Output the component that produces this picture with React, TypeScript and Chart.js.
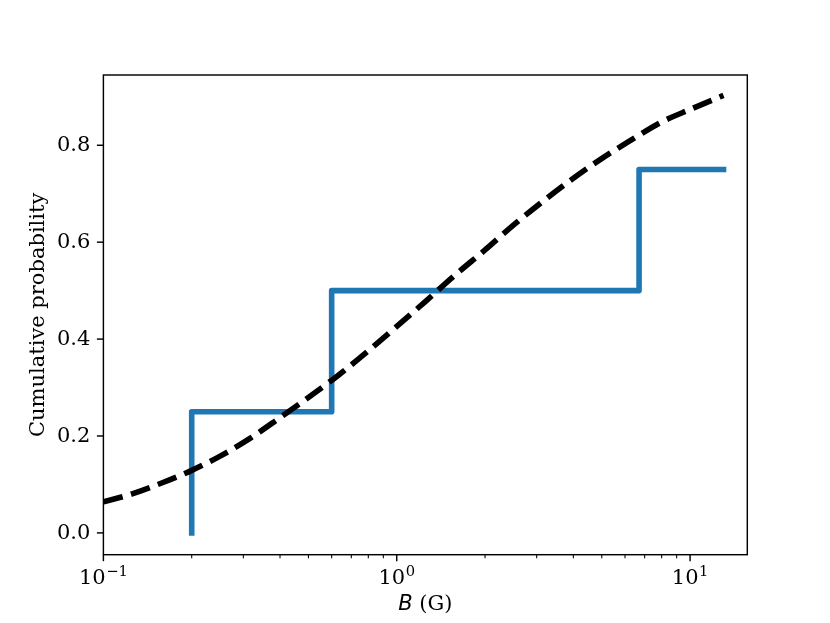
import React, { useEffect, useRef } from "react";
import { Chart, registerables } from "chart.js";

Chart.register(...registerables);

// Dashed model curve (~0.1-decade spacing)
const CURVE_B = [0.1, 0.126, 0.158, 0.2, 0.251, 0.316, 0.398, 0.501, 0.631, 0.794, 1, 1.26, 1.58, 2.0, 2.51, 3.16, 3.98, 5.01, 6.31, 7.94, 10, 13.0];
const CURVE_P = [0.064, 0.081, 0.103, 0.129, 0.159, 0.195, 0.237, 0.28, 0.325, 0.374, 0.426, 0.479, 0.532, 0.584, 0.636, 0.685, 0.731, 0.773, 0.811, 0.847, 0.874, 0.903];

// Empirical step CDF
const STEP_B = [0.2, 0.2, 0.6, 0.6, 6.7, 6.7, 13.0];
const STEP_P = [0, 0.25, 0.25, 0.5, 0.5, 0.75, 0.75];

// Axes
const X_MIN = 0.1;
const X_MAX = 15.67;
const Y_MIN = -0.045;
const Y_MAX = 0.945;
const Y_TICKS = [0.0, 0.2, 0.4, 0.6, 0.8];
const X_MAJOR = [0.1, 1, 10];
const X_MAJOR_EXP = ["\u22121", "0", "1"];
const X_MINOR = [0.2, 0.3, 0.4, 0.5, 0.6, 0.7, 0.8, 0.9, 2, 3, 4, 5, 6, 7, 8, 9];

const Y_LABEL = "Cumulative probability";
const X_LABEL_VAR = "B";
const X_LABEL_UNIT = " (G)";

const SERIF = '"DejaVu Serif", serif';
const SANS = '"DejaVu Sans", sans-serif';
const FS = 21;
const FS_SUP = 14.7;

const axesPlugin = {
  id: "mplAxes",
  afterDraw(chart: any) {
    const ctx = chart.ctx as CanvasRenderingContext2D;
    const { left, right, top, bottom } = chart.chartArea;
    const xs = chart.scales.x;
    const ys = chart.scales.y;
    ctx.save();
    ctx.strokeStyle = "#000";
    ctx.fillStyle = "#000";
    // frame
    ctx.lineWidth = 1.44;
    ctx.strokeRect(left, top, right - left, bottom - top);

    // y ticks
    ctx.font = `${FS}px ${SERIF}`;
    ctx.textAlign = "right";
    ctx.textBaseline = "middle";
    for (const v of Y_TICKS) {
      const py = ys.getPixelForValue(v);
      ctx.lineWidth = 1.44;
      ctx.beginPath();
      ctx.moveTo(left, py);
      ctx.lineTo(left - 6.5, py);
      ctx.stroke();
      ctx.fillText(v.toFixed(1), left - 13, py + 0.5);
    }

    // x minor ticks
    ctx.lineWidth = 1.08;
    for (const v of X_MINOR) {
      const px = xs.getPixelForValue(v);
      if (px < left || px > right) continue;
      ctx.beginPath();
      ctx.moveTo(px, bottom);
      ctx.lineTo(px, bottom + 3.6);
      ctx.stroke();
    }
    // x major ticks and labels
    ctx.lineWidth = 1.44;
    X_MAJOR.forEach((v, i) => {
      const px = xs.getPixelForValue(v);
      ctx.beginPath();
      ctx.moveTo(px, bottom);
      ctx.lineTo(px, bottom + 6.5);
      ctx.stroke();
      ctx.textBaseline = "alphabetic";
      ctx.textAlign = "left";
      ctx.font = `${FS}px ${SERIF}`;
      const baseW = ctx.measureText("10").width;
      ctx.font = `${FS_SUP}px ${SERIF}`;
      const expW = ctx.measureText(X_MAJOR_EXP[i]).width;
      const total = baseW + expW + 0.5;
      const x0 = px - total / 2;
      ctx.font = `${FS}px ${SERIF}`;
      ctx.fillText("10", x0, 583.5);
      ctx.font = `${FS_SUP}px ${SERIF}`;
      ctx.fillText(X_MAJOR_EXP[i], x0 + baseW + 0.5, 575.5);
    });

    // x label
    ctx.textBaseline = "alphabetic";
    ctx.textAlign = "left";
    ctx.font = `italic ${FS}px ${SANS}`;
    const wB = ctx.measureText(X_LABEL_VAR).width;
    ctx.font = `${FS}px ${SERIF}`;
    const wU = ctx.measureText(X_LABEL_UNIT).width;
    const cx = (left + right) / 2;
    const lx = cx - (wB + wU) / 2;
    ctx.font = `italic ${FS}px ${SANS}`;
    ctx.fillText(X_LABEL_VAR, lx, 609.5);
    ctx.font = `${FS}px ${SERIF}`;
    ctx.fillText(X_LABEL_UNIT, lx + wB, 609.5);

    // y label
    ctx.translate(43.5, (top + bottom) / 2);
    ctx.rotate(-Math.PI / 2);
    ctx.textAlign = "center";
    ctx.textBaseline = "alphabetic";
    ctx.font = `${FS}px ${SERIF}`;
    ctx.fillText(Y_LABEL, 0, 0);
    ctx.restore();
  },
};

export default function App() {
  const ref = useRef<HTMLCanvasElement | null>(null);
  useEffect(() => {
    if (!ref.current) return;
    const chart = new Chart(ref.current, {
      type: "line",
      data: {
        datasets: [
          {
            label: "model",
            data: CURVE_B.map((b, i) => ({ x: b, y: CURVE_P[i] })),
            borderColor: "#000000",
            borderWidth: 5.6,
            borderDash: [20, 8.6],
            borderCapStyle: "butt",
            borderJoinStyle: "round",
            cubicInterpolationMode: "monotone",
            pointRadius: 0,
            fill: false,
            order: 0,
          },
          {
            label: "data",
            data: STEP_B.map((b, i) => ({ x: b, y: STEP_P[i] })),
            borderColor: "#1f77b4",
            borderWidth: 5.6,
            borderCapStyle: "square",
            borderJoinStyle: "round",
            tension: 0,
            pointRadius: 0,
            fill: false,
            order: 1,
          },
        ],
      },
      options: {
        animation: false,
        responsive: false,
        devicePixelRatio: 1,
        layout: { padding: { top: 75, right: 82.7, left: 0, bottom: 0 } },
        plugins: { legend: { display: false }, tooltip: { enabled: false } },
        scales: {
          x: {
            type: "logarithmic",
            min: X_MIN,
            max: X_MAX,
            grid: { display: false },
            border: { display: false },
            ticks: { display: false },
            afterFit: (s: any) => {
              s.height = 68.3;
            },
          },
          y: {
            type: "linear",
            min: Y_MIN,
            max: Y_MAX,
            grid: { display: false },
            border: { display: false },
            ticks: { display: false },
            afterFit: (s: any) => {
              s.width = 103.4;
            },
          },
        },
      } as any,
      plugins: [axesPlugin],
    });
    return () => chart.destroy();
  }, []);
  return (
    <div style={{ position: "fixed", left: 0, top: 0, width: 830, height: 623, background: "#fff" }}>
      <canvas ref={ref} width={830} height={623} style={{ width: 830, height: 623, display: "block" }} />
    </div>
  );
}
